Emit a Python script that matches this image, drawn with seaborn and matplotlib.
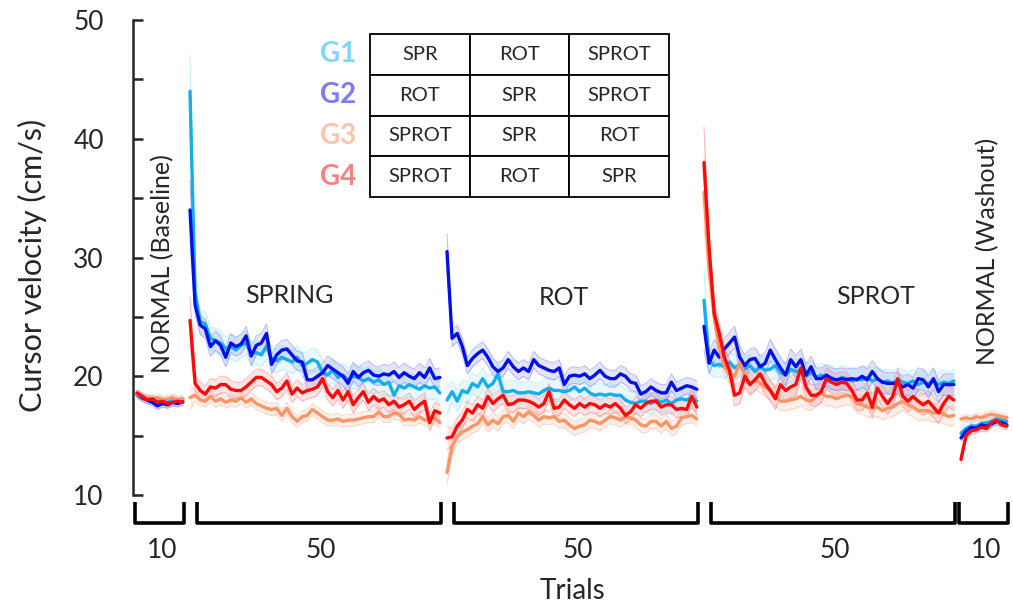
import numpy as np
import pandas as pd
import matplotlib
matplotlib.use("Agg")
import matplotlib.pyplot as plt
import seaborn as sns

# ---------------- data (cursor velocity, cm/s) ----------------
groups = ["G1", "G2", "G3", "G4"]
segments = ["baseline", "spring", "rot", "sprot", "washout"]
segment_lengths = [10, 50, 50, 50, 10]

g1_base = [18.4, 18.2, 18.1, 18.0, 17.9, 18.0, 17.9, 18.1, 18.0, 18.1]
g2_base = [18.5, 18.2, 18.0, 17.8, 17.5, 17.7, 17.6, 17.8, 17.7, 17.9]
g3_base = [18.5, 18.3, 18.2, 18.1, 18.2, 18.0, 18.1, 18.2, 18.0, 18.1]
g4_base = [18.6, 18.3, 18.0, 18.1, 17.8, 17.9, 17.7, 17.8, 17.9, 17.8]

g1_spring = [44.0, 27.0, 24.6, 24.4, 23.2, 23.0, 22.8, 22.3, 22.5, 22.2,
             22.6, 22.8, 21.9, 22.0, 21.8, 22.5, 21.5, 21.3, 21.6, 21.4,
             21.2, 21.6, 20.9, 21.1, 21.4, 21.2, 20.3, 20.1, 20.5, 19.9,
             20.1, 19.7, 20.0, 19.9, 19.6, 19.8, 19.5, 19.7, 19.3, 19.5,
             18.4, 19.2, 19.0, 19.3, 19.1, 18.9, 19.2, 19.0, 19.1, 18.6]
g2_spring = [34.0, 26.0, 24.3, 24.0, 22.5, 23.0, 22.6, 21.6, 22.8, 22.5,
             22.7, 23.4, 21.7, 22.6, 22.8, 23.6, 21.0, 21.8, 22.2, 22.3,
             21.8, 21.3, 21.2, 19.7, 19.7, 20.0, 20.3, 20.9, 20.6, 20.3,
             20.0, 19.4, 20.4, 19.9, 20.3, 20.5, 20.1, 20.0, 20.2, 20.1,
             20.4, 19.9, 20.3, 20.0, 19.8, 20.3, 19.9, 20.7, 19.8, 19.9]
g3_spring = [18.2, 18.4, 18.0, 17.9, 18.3, 17.9, 18.1, 17.8, 18.0, 17.9,
             18.2, 17.8, 18.1, 17.7, 17.5, 17.3, 17.2, 17.3, 16.7, 17.3,
             16.6, 16.2, 16.6, 16.7, 17.2, 16.9, 16.6, 16.3, 16.3, 16.4,
             16.2, 16.3, 16.3, 16.4, 16.5, 16.6, 16.6, 17.0, 16.6, 16.6,
             16.9, 16.8, 16.3, 16.4, 16.3, 16.6, 16.3, 16.4, 16.5, 16.1]
g4_spring = [24.7, 19.4, 18.8, 18.5, 19.1, 19.0, 19.3, 19.3, 18.9, 18.8,
             18.8, 19.1, 19.5, 19.9, 19.9, 19.6, 19.3, 18.7, 19.0, 19.6,
             18.5, 19.0, 18.6, 18.8, 18.9, 19.1, 19.8, 18.7, 18.2, 18.8,
             18.0, 18.7, 17.6, 18.2, 18.7, 17.8, 18.3, 17.9, 18.1, 17.6,
             17.9, 17.4, 17.6, 17.9, 17.2, 17.6, 17.9, 16.1, 17.1, 16.9]

g1_rot = [18.0, 18.7, 17.9, 18.8, 18.6, 19.4, 19.1, 19.8, 19.1, 19.4,
          20.2, 18.7, 18.7, 18.8, 18.6, 18.6, 18.7, 18.6, 18.5, 18.8,
          19.0, 18.8, 18.8, 18.7, 18.8, 19.1, 18.7, 19.0, 18.6, 18.4,
          18.5, 18.4, 18.5, 18.4, 18.4, 18.0, 17.8, 17.7, 17.9, 17.9,
          17.7, 18.0, 17.8, 18.0, 17.7, 18.0, 18.1, 18.0, 18.2, 17.9]
g2_rot = [30.5, 23.2, 23.6, 22.5, 20.9, 21.5, 21.9, 22.2, 21.6, 20.8,
          20.4, 20.7, 21.4, 20.8, 20.4, 20.7, 20.4, 21.4, 20.9, 20.7,
          20.5, 20.4, 20.7, 19.3, 20.0, 20.1, 20.0, 20.2, 19.8, 20.1,
          20.5, 20.0, 19.8, 19.8, 20.2, 20.0, 19.5, 19.4, 18.5, 18.7,
          19.1, 18.8, 18.6, 18.6, 19.5, 18.8, 19.0, 19.2, 19.1, 18.9]
g3_rot = [11.9, 14.1, 14.9, 15.3, 15.5, 15.8, 16.0, 16.6, 15.9, 16.3,
          16.0, 16.6, 16.7, 16.2, 16.9, 16.6, 17.0, 16.7, 16.3, 16.6,
          16.5, 16.6, 16.2, 16.3, 15.9, 15.6, 15.8, 15.9, 16.3, 16.2,
          16.0, 16.3, 16.6, 16.5, 16.3, 16.6, 16.5, 16.3, 15.9, 15.8,
          16.2, 16.2, 15.8, 16.2, 15.6, 15.8, 16.5, 16.6, 16.7, 16.4]
g4_rot = [14.8, 14.9, 15.8, 16.3, 17.2, 16.9, 17.6, 17.3, 18.3, 17.7,
          18.1, 18.4, 17.6, 17.7, 18.0, 18.0, 17.9, 17.7, 17.4, 17.7,
          18.7, 17.3, 17.4, 18.0, 17.6, 17.3, 17.7, 17.4, 17.7, 17.6,
          17.3, 17.6, 17.4, 17.7, 17.3, 16.7, 17.0, 17.6, 17.3, 17.7,
          17.9, 17.9, 17.4, 17.6, 17.6, 17.2, 17.3, 17.2, 18.3, 17.4]

g1_sprot = [26.4, 21.3, 20.9, 21.0, 20.8, 21.2, 20.7, 21.0, 20.6, 20.9,
            20.4, 20.8, 20.5, 20.6, 20.9, 20.3, 20.1, 20.6, 20.4, 20.5,
            20.0, 20.3, 19.9, 20.1, 19.8, 19.9, 19.6, 19.9, 19.8, 19.6,
            19.8, 19.7, 19.9, 19.6, 19.8, 19.5, 19.6, 19.4, 19.7, 19.5,
            19.4, 19.6, 19.3, 19.5, 19.4, 19.6, 19.3, 19.5, 19.4, 19.6]
g2_sprot = [24.2, 21.1, 22.2, 21.6, 22.3, 22.8, 23.3, 21.6, 20.9, 21.4,
            21.5, 20.8, 21.1, 22.2, 21.4, 20.7, 20.1, 21.4, 20.8, 21.4,
            20.1, 20.8, 19.8, 19.8, 20.1, 19.8, 19.7, 19.8, 19.7, 19.8,
            19.7, 20.0, 19.7, 20.4, 19.8, 19.5, 19.4, 19.4, 19.4, 19.1,
            19.3, 19.0, 19.8, 19.7, 19.1, 19.8, 18.7, 19.3, 19.3, 19.3]
g3_sprot = [35.5, 29.0, 25.0, 22.4, 20.8, 20.2, 20.0, 21.1, 20.2, 19.3,
            19.7, 19.4, 19.1, 18.8, 18.3, 17.9, 17.9, 18.0, 18.1, 18.3,
            18.0, 17.9, 18.3, 18.6, 18.3, 18.3, 18.1, 18.3, 18.4, 18.3,
            17.7, 17.6, 17.4, 17.3, 17.4, 17.1, 17.3, 17.4, 17.7, 17.9,
            17.6, 17.4, 17.1, 17.1, 17.1, 16.9, 17.0, 16.8, 16.6, 16.7]
g4_sprot = [38.0, 30.8, 25.3, 23.6, 21.6, 20.5, 18.4, 18.6, 20.0, 19.3,
            19.7, 20.2, 19.4, 18.8, 18.1, 19.3, 18.8, 19.1, 19.3, 20.7,
            19.1, 18.4, 18.4, 18.7, 19.8, 19.5, 19.3, 19.5, 19.4, 18.8,
            18.0, 18.0, 18.6, 17.4, 19.0, 18.3, 17.7, 18.3, 19.8, 18.3,
            17.9, 18.3, 17.9, 17.6, 17.9, 17.4, 16.9, 17.7, 18.3, 18.0]

g1_wash = [15.2, 15.6, 15.8, 15.8, 16.0, 16.1, 16.2, 16.4, 16.3, 16.2]
g2_wash = [14.8, 15.4, 15.7, 15.6, 15.9, 15.8, 16.0, 16.2, 16.1, 15.9]
g3_wash = [16.4, 16.5, 16.4, 16.6, 16.5, 16.7, 16.8, 16.7, 16.6, 16.5]
g4_wash = [13.0, 15.0, 15.4, 15.5, 15.7, 15.6, 16.1, 16.3, 15.9, 15.8]

# approximate SEM: typical value per segment, and the (larger) one of the first trial
g1_sem = [0.3, 1.0, 0.9, 1.0, 0.4]
g2_sem = [0.3, 0.8, 0.7, 0.9, 0.3]
g3_sem = [0.3, 0.5, 0.6, 0.8, 0.3]
g4_sem = [0.3, 0.7, 0.7, 0.9, 0.3]
g1_sem_first = [0.3, 3.0, 1.2, 2.5, 0.4]
g2_sem_first = [0.3, 2.5, 1.5, 2.0, 0.3]
g3_sem_first = [0.3, 1.0, 1.0, 3.0, 0.3]
g4_sem_first = [0.3, 2.0, 1.0, 3.0, 0.4]

conditions = [["SPR", "ROT", "SPROT"],
              ["ROT", "SPR", "SPROT"],
              ["SPROT", "SPR", "ROT"],
              ["SPROT", "ROT", "SPR"]]

phase_labels = ["NORMAL (Baseline)", "SPRING", "ROT", "SPROT", "NORMAL (Washout)"]

# ---------------- tidy table ----------------
series = {
    "G1": [g1_base, g1_spring, g1_rot, g1_sprot, g1_wash],
    "G2": [g2_base, g2_spring, g2_rot, g2_sprot, g2_wash],
    "G3": [g3_base, g3_spring, g3_rot, g3_sprot, g3_wash],
    "G4": [g4_base, g4_spring, g4_rot, g4_sprot, g4_wash],
}
sems = {"G1": (g1_sem, g1_sem_first), "G2": (g2_sem, g2_sem_first),
        "G3": (g3_sem, g3_sem_first), "G4": (g4_sem, g4_sem_first)}

gap = 0.4
seg_start = []
pos = 0.0
for n in segment_lengths:
    seg_start.append(pos)
    pos += n + gap

rows = []
for g in groups:
    for k, seg in enumerate(segments):
        vals = series[g][k]
        for i, v in enumerate(vals):
            s = sems[g][1][k] if i == 0 else sems[g][0][k]
            rows.append({"group": g, "segment": seg, "trial": seg_start[k] + i,
                         "velocity": v, "sem": s})
df = pd.DataFrame(rows)

line_colors = {"G1": "#14aef0", "G2": "#0010e8", "G3": "#ff9464", "G4": "#ff0a0a"}
band_colors = {"G1": "#7fe3ff", "G2": "#6a6aff", "G3": "#ffa890", "G4": "#ff6a6a"}
label_colors = {"G1": "#80d6f8", "G2": "#7c7cf6", "G3": "#ffc2aa", "G4": "#ff8080"}

# ---------------- plot ----------------
sns.set_style("ticks")
plt.rcParams["font.family"] = ["Lato", "DejaVu Sans"]

fig = plt.figure(figsize=(10.13, 6.11), dpi=100)
ax = fig.add_axes([133 / 1013, 116 / 611, 880 / 1013, 475 / 611])

for g in groups:
    for seg in segments:
        d = df[(df.group == g) & (df.segment == seg)]
        lo = d.velocity - d["sem"]
        hi = d.velocity + d["sem"]
        ax.fill_between(d.trial, lo, hi, color=band_colors[g], alpha=0.18, lw=0)
        ax.plot(d.trial, lo, color=band_colors[g], alpha=0.45, lw=0.7)
        ax.plot(d.trial, hi, color=band_colors[g], alpha=0.45, lw=0.7)

sns.lineplot(data=df, x="trial", y="velocity", hue="group", units="segment",
             estimator=None, hue_order=groups, palette=line_colors,
             lw=2.4, legend=False, ax=ax)

ax.set_xlim(-0.78, 171.8)
ax.set_ylim(10, 50)
sns.despine(ax=ax, bottom=True)
ax.spines["left"].set_bounds(10, 50)
ax.spines["left"].set_linewidth(1.8)
ax.set_xticks([])
ax.set_yticks([10, 20, 30, 40, 50])
ax.set_yticks([15, 25, 35, 45], minor=True)
ax.tick_params(axis="y", which="both", direction="in", length=7, width=1.8,
               labelsize=19, pad=21)
ax.set_xlabel("")
ax.set_ylabel("Cursor velocity (cm/s)", fontsize=22)
ax.yaxis.set_label_coords(-0.098, 0.484)

# phase names
name_pos = [(5.1, 29.5, 90), (29.8, 26.8, 0), (83.8, 26.6, 0),
            (144.9, 26.7, 0), (166.9, 30.5, 90)]
for name, (x, y, rot) in zip(phase_labels, name_pos):
    ax.text(x, y, name, fontsize=18, rotation=rot, ha="center", va="center")

# brackets with trial counts under the axis
for k, n in enumerate(segment_lengths):
    inset = 1.4 if n == 50 else -0.3
    x0 = seg_start[k] + inset
    x1 = seg_start[k] + n - 1 + 0.3
    ax.plot([x0, x0, x1, x1], [9.4, 7.65, 7.65, 9.4], color="black", lw=2.6,
            clip_on=False, solid_joinstyle="round", solid_capstyle="butt")
    ax.text((x0 + x1) / 2 + 0.4, 5.35, str(n), fontsize=19, ha="center",
            va="center", clip_on=False)
ax.text(85.5, 1.95, "Trials", fontsize=20, ha="center", va="center", clip_on=False)

# group / condition order table
tbl = ax.table(cellText=conditions, cellLoc="center",
               bbox=[(370 - 133) / 880, (495 - 197) / 475, 299 / 880, 163 / 475])
tbl.auto_set_font_size(False)
tbl.set_fontsize(14.5)
for cell in tbl.get_celld().values():
    cell.set_linewidth(1.3)
    cell.set_edgecolor("black")
for r, g in enumerate(groups):
    yc = (495 - 197 + 163 * (1 - (r + 0.5) / 4)) / 475
    ax.text((338 - 133) / 880, yc, g, transform=ax.transAxes, fontsize=20,
            fontweight="bold", color=label_colors[g], ha="center", va="center")

fig.savefig("out.png", dpi=100)
